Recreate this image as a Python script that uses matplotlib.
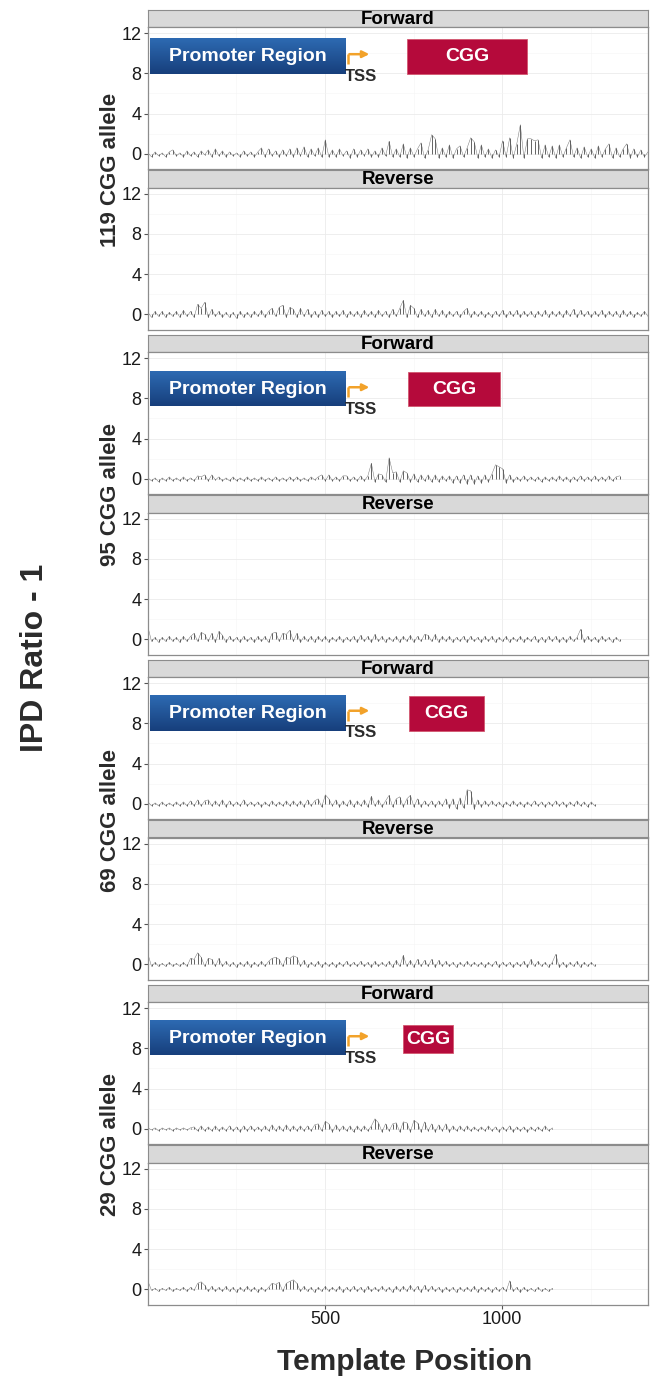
import numpy as np
import matplotlib
matplotlib.use('Agg')
import matplotlib.pyplot as plt
from matplotlib.colors import LinearSegmentedColormap

plt.rcParams['font.family'] = ['Liberation Sans', 'DejaVu Sans']

# --- data: IPD ratio - 1, read every 10 bp along the template ---
alleles = ['119', '95', '69', '29']
strands = ['Forward', 'Reverse']
step = 10

fwd_119 = [0.1, -0.3, 0.2, -0.2, 0.1, -0.3, 0.2, 0.4, -0.2, 0.1,
           -0.3, 0.3, -0.2, 0.2, -0.3, 0.3, -0.1, 0.4, -0.3, 0.5,
           -0.2, 0.3, -0.3, 0.2, -0.2, 0.1, -0.3, 0.3, -0.2, 0.2,
           -0.3, 0.2, 0.6, -0.3, 0.5, -0.2, 0.3, -0.3, 0.4, -0.2,
           0.5, -0.3, 0.6, -0.2, 0.7, -0.3, 0.5, -0.2, 0.6, -0.3,
           1.4, -0.3, 0.4, -0.3, 0.5, -0.2, 0.3, -0.4, 0.5, -0.3,
           0.4, -0.2, 0.5, -0.3, 0.3, -0.3, 0.6, -0.2, 1.25, -0.3,
           0.5, -0.3, 1.0, -0.4, 0.6, -0.3, 0.5, 1.1, -0.4, 0.4,
           1.9, 1.5, -0.4, 0.6, -0.3, 0.9, -0.4, 0.5, 0.8, -0.3,
           0.6, 1.6, 1.2, -0.4, 0.9, -0.3, 0.5, -0.4, 0.4, -0.3,
           1.3, -0.3, 1.6, -0.4, 1.0, 2.9, -0.4, 1.5, 1.5, 1.3,
           1.4, -0.4, 0.9, -0.3, 0.8, -0.4, 0.9, -0.3, 0.6, 1.4,
           -0.3, 0.6, -0.4, 0.7, -0.3, 0.5, -0.4, 0.8, -0.3, 0.5,
           1.0, -0.4, 0.6, -0.3, 0.5, 1.0, -0.4, 0.5, -0.3, 0.4,
           -0.3, 0.2]
rev_119 = [0.2, -0.3, 0.3, -0.2, 0.3, -0.3, 0.2, -0.2, 0.3, -0.3,
           0.4, -0.2, 0.3, -0.3, 1.0, 0.6, 1.2, -0.3, 0.5, -0.2,
           0.3, -0.3, 0.2, -0.3, 0.2, -0.4, 0.3, -0.3, 0.2, -0.3,
           0.3, -0.2, 0.4, -0.3, 0.3, 0.6, -0.2, 0.7, 0.9, -0.3,
           0.7, 0.5, -0.3, 0.6, -0.2, 0.5, -0.3, 0.3, -0.3, 0.4,
           -0.2, 0.3, -0.3, 0.3, -0.2, 0.4, -0.3, 0.3, -0.2, 0.3,
           -0.3, 0.4, -0.2, 0.3, -0.3, 0.4, -0.2, 0.3, -0.3, 0.5,
           -0.2, 0.6, 1.4, -0.3, 0.9, 0.6, -0.3, 0.5, -0.2, 0.4,
           -0.3, 0.5, -0.2, 0.4, -0.3, 0.3, -0.2, 0.3, -0.3, 0.3,
           0.6, -0.3, 0.3, -0.2, 0.3, -0.3, 0.2, -0.3, 0.3, -0.2,
           0.4, -0.3, 0.3, -0.2, 0.4, -0.3, 0.3, -0.2, 0.3, -0.3,
           0.3, -0.2, 0.4, -0.3, 0.3, -0.2, 0.3, -0.3, 0.4, -0.2,
           0.5, -0.3, 0.4, -0.2, 0.3, -0.3, 0.3, -0.2, 0.4, -0.3,
           0.3, -0.2, 0.3, -0.3, 0.4, -0.2, 0.3, -0.3, 0.2, -0.2,
           0.3, -0.2]
fwd_95 = [0.1, -0.2, 0.1, -0.3, 0.1, -0.2, 0.2, -0.2, 0.1, -0.2,
          0.2, -0.2, 0.1, -0.2, 0.3, 0.2, 0.4, -0.2, 0.4, -0.1,
          0.2, -0.2, 0.1, -0.2, 0.2, -0.2, 0.1, -0.2, 0.2, -0.2,
          0.1, -0.2, 0.2, -0.2, 0.1, -0.2, 0.2, -0.2, 0.1, -0.2,
          0.2, -0.2, 0.2, -0.2, 0.1, -0.2, 0.2, -0.1, 0.2, 0.4,
          -0.2, 0.4, -0.2, 0.2, -0.2, 0.3, 0.3, -0.2, 0.2, -0.2,
          0.3, -0.2, 0.3, 1.55, -0.3, 0.5, 0.4, -0.3, 2.1, 0.6,
          0.7, -0.3, 0.8, 0.6, -0.3, 0.5, -0.3, 0.4, -0.2, 0.4,
          -0.3, 0.4, -0.3, 0.3, -0.2, 0.3, -0.4, 0.3, -0.4, 0.4,
          -0.5, 0.4, -0.5, 0.3, -0.4, 0.4, -0.3, 0.5, 1.4, 1.2,
          1.0, -0.4, 0.4, -0.3, 0.2, -0.2, 0.3, -0.2, 0.2, -0.2,
          0.2, -0.3, 0.2, -0.2, 0.2, -0.2, 0.3, -0.2, 0.2, -0.3,
          0.2, -0.2, 0.3, -0.2, 0.2, -0.2, 0.3, -0.2, 0.2, -0.2,
          0.3, -0.2, 0.2, 0.3]
rev_95 = [1.2, -0.2, 0.2, -0.3, 0.2, -0.2, 0.3, -0.2, 0.2, -0.3,
          0.3, -0.2, 0.3, 0.6, -0.2, 0.7, 0.5, -0.2, 0.6, -0.3,
          0.8, 0.4, -0.3, 0.3, -0.2, 0.2, -0.3, 0.3, -0.2, 0.2,
          -0.3, 0.3, -0.2, 0.3, -0.3, 0.6, 0.7, -0.2, 0.6, 0.5,
          0.9, -0.2, 0.6, -0.3, 0.3, -0.2, 0.3, -0.3, 0.3, -0.2,
          0.3, -0.3, 0.2, -0.2, 0.3, -0.3, 0.2, -0.2, 0.3, -0.3,
          0.4, -0.2, 0.3, -0.3, 0.5, -0.2, 0.3, -0.3, 0.2, -0.2,
          0.3, -0.3, 0.3, -0.2, 0.4, -0.3, 0.3, -0.2, 0.5, 0.4,
          -0.2, 0.5, -0.3, 0.3, -0.2, 0.3, -0.3, 0.2, -0.2, 0.3,
          -0.3, 0.3, -0.2, 0.2, -0.3, 0.3, -0.2, 0.3, -0.3, 0.2,
          -0.2, 0.3, -0.3, 0.2, -0.2, 0.3, -0.3, 0.2, -0.2, 0.3,
          -0.3, 0.2, -0.3, 0.3, -0.2, 0.3, -0.3, 0.2, -0.3, 0.3,
          -0.2, 0.2, 1.0, -0.3, 0.3, -0.2, 0.2, -0.3, 0.3, -0.2,
          0.2, -0.3, 0.2, -0.2]
fwd_69 = [0.2, -0.2, 0.1, -0.2, 0.2, -0.2, 0.1, -0.2, 0.2, -0.2,
          0.2, -0.2, 0.3, -0.2, 0.4, -0.2, 0.3, 0.4, -0.2, 0.3,
          -0.2, 0.4, -0.3, 0.3, -0.2, 0.2, -0.2, 0.4, -0.2, 0.2,
          -0.2, 0.2, -0.3, 0.2, -0.2, 0.3, -0.2, 0.2, -0.2, 0.3,
          -0.2, 0.3, -0.2, 0.3, -0.3, 0.4, -0.2, 0.3, 0.5, -0.3,
          0.9, 0.5, -0.2, 0.4, -0.3, 0.3, -0.2, 0.4, -0.3, 0.3,
          -0.2, 0.4, -0.3, 0.75, -0.2, 0.4, -0.3, 0.3, 0.85, -0.3,
          0.5, 0.7, -0.3, 0.5, 0.85, -0.3, 0.5, -0.3, 0.3, -0.2,
          0.3, -0.3, 0.3, -0.2, 0.5, -0.4, 0.5, -0.5, 0.6, -0.4,
          1.4, 1.3, -0.5, 0.4, -0.3, 0.3, -0.2, 0.3, -0.2, 0.2,
          -0.3, 0.2, -0.2, 0.3, -0.2, 0.2, -0.3, 0.2, -0.2, 0.3,
          -0.2, 0.2, -0.3, 0.2, -0.2, 0.3, -0.2, 0.2, -0.3, 0.2,
          -0.2, 0.3, -0.2, 0.2, -0.3, 0.2, -0.2]
rev_69 = [1.0, -0.2, 0.2, -0.2, 0.1, -0.2, 0.2, -0.2, 0.1, -0.2,
          0.2, -0.2, 0.6, 0.5, 1.15, 0.7, -0.2, 0.6, 0.5, -0.2,
          0.6, -0.2, 0.3, -0.2, 0.2, -0.3, 0.2, -0.2, 0.3, -0.3,
          0.2, -0.2, 0.3, -0.2, 0.3, 0.6, 0.7, 0.5, -0.2, 0.7,
          0.6, 0.85, 0.7, -0.2, 0.4, -0.3, 0.2, -0.2, 0.3, -0.3,
          0.2, -0.2, 0.2, -0.3, 0.2, -0.2, 0.3, -0.2, 0.2, -0.2,
          0.3, -0.2, 0.2, -0.3, 0.3, -0.2, 0.2, -0.2, 0.3, -0.3,
          0.4, -0.2, 0.9, -0.2, 0.4, -0.3, 0.5, -0.2, 0.4, -0.2,
          0.5, -0.3, 0.4, -0.2, 0.3, -0.2, 0.2, -0.3, 0.2, -0.2,
          0.3, -0.2, 0.2, -0.2, 0.2, -0.3, 0.2, -0.2, 0.3, -0.3,
          0.2, -0.2, 0.2, -0.3, 0.2, -0.2, 0.3, -0.3, 0.5, -0.2,
          0.3, -0.2, 0.2, -0.3, 0.2, 1.0, -0.3, 0.2, -0.3, 0.2,
          -0.2, 0.3, -0.3, 0.2, -0.2, 0.2, -0.2]
fwd_29 = [0.1, -0.1, 0.1, -0.2, 0.1, -0.1, 0.1, -0.2, 0.1, -0.1,
          0.1, -0.1, 0.1, 0.2, -0.2, 0.3, -0.2, 0.2, -0.2, 0.3,
          -0.2, 0.2, -0.2, 0.3, -0.2, 0.2, -0.3, 0.3, -0.2, 0.3,
          -0.2, 0.2, -0.2, 0.3, -0.2, 0.4, -0.2, 0.3, -0.2, 0.4,
          -0.2, 0.3, -0.2, 0.3, -0.2, 0.3, -0.2, 0.4, 0.5, -0.2,
          0.75, 0.5, -0.3, 0.4, -0.2, 0.3, -0.2, 0.3, -0.3, 0.3,
          -0.2, 0.3, -0.2, 0.3, 1.0, 0.6, -0.3, 0.5, -0.2, 0.5,
          0.6, -0.3, 0.7, 0.6, -0.3, 0.85, 0.6, -0.3, 0.7, -0.2,
          0.5, -0.3, 0.4, -0.2, 0.5, -0.3, 0.3, -0.2, 0.3, -0.2,
          0.3, -0.2, 0.2, -0.2, 0.2, -0.2, 0.3, -0.2, 0.2, -0.3,
          0.2, -0.2, 0.3, -0.3, 0.2, -0.2, 0.2, -0.3, 0.2, -0.2,
          0.2, -0.2, 0.3, -0.2, 0.1]
rev_29 = [0.8, -0.1, 0.1, -0.2, 0.1, -0.1, 0.2, -0.2, 0.1, -0.1,
          0.2, -0.2, 0.2, -0.1, 0.6, 0.75, 0.4, -0.2, 0.3, -0.2,
          0.2, -0.2, 0.3, -0.2, 0.2, -0.3, 0.2, -0.2, 0.3, -0.2,
          0.2, -0.3, 0.2, -0.2, 0.2, 0.6, 0.5, 0.7, -0.2, 0.6,
          0.8, 0.95, 0.6, -0.2, 0.3, -0.2, 0.2, -0.3, 0.2, -0.2,
          0.3, -0.2, 0.2, -0.2, 0.3, -0.3, 0.2, -0.2, 0.3, -0.2,
          0.2, -0.3, 0.3, -0.2, 0.2, -0.2, 0.3, -0.2, 0.2, -0.3,
          0.3, -0.2, 0.3, -0.2, 0.4, -0.2, 0.3, -0.3, 0.4, -0.2,
          0.3, -0.2, 0.2, -0.3, 0.2, -0.2, 0.2, -0.3, 0.2, -0.2,
          0.2, -0.2, 0.3, -0.3, 0.2, -0.2, 0.2, -0.3, 0.2, -0.2,
          0.2, -0.2, 0.85, -0.2, 0.2, -0.3, 0.2, -0.2, 0.1, -0.2,
          0.2, -0.2, 0.1, -0.2, 0.1]

traces = {
    ('119', 'Forward'): fwd_119, ('119', 'Reverse'): rev_119,
    ('95', 'Forward'): fwd_95, ('95', 'Reverse'): rev_95,
    ('69', 'Forward'): fwd_69, ('69', 'Reverse'): rev_69,
    ('29', 'Forward'): fwd_29, ('29', 'Reverse'): rev_29,
}

# annotation boxes (template position / y units) on the Forward panels
promoter_x = (8, 559)
cgg_x = {'119': (731, 1070), '95': (734, 994), '69': (737, 948), '29': (720, 861)}
promoter_y = {'119': (7.9, 11.4), '95': (7.2, 10.6), '69': (7.25, 10.75), '29': (7.3, 10.7)}
cgg_y = {'119': (7.9, 11.4), '95': (7.2, 10.6), '69': (7.25, 10.75), '29': (7.5, 10.3)}
tss_x = (565, 633)

# --- layout in pixels ---
W, H = 655, 1388
left, width = 148, 500
strip_h, panel_h = 17.5, 142
group_gap = 325
fig = plt.figure(figsize=(W / 100, H / 100), dpi=100)


def fy(px):
    return 1 - px / H


blue_cmap = LinearSegmentedColormap.from_list('promo', ['#173f7c', '#2d6ab2'])
text_col = '#2b2b2b'

for g, allele in enumerate(alleles):
    off = g * group_gap
    for s, strand in enumerate(strands):
        top = 9.5 + off + s * 160.5
        sax = fig.add_axes([left / W, fy(top + strip_h), width / W, strip_h / H])
        sax.set_facecolor('#d9d9d9')
        sax.set_xticks([])
        sax.set_yticks([])
        for sp in sax.spines.values():
            sp.set_color('#8c8c8c')
            sp.set_linewidth(0.8)
        sax.text(0.5, 0.45, strand, ha='center', va='center', fontsize=13.5,
                 fontweight='bold', color='black', transform=sax.transAxes)

        ax = fig.add_axes([left / W, fy(top + strip_h + panel_h), width / W, panel_h / H])
        y = np.array(traces[(allele, strand)])
        x = 1 + step * np.arange(len(y))
        # spikes + thin connecting trace
        ax.vlines(x, 0, y, color='#4a4a4a', lw=0.6, zorder=2)
        ax.plot(x, y, color='#555555', lw=0.35, alpha=0.8, zorder=2)

        ax.set_xlim(1, 1411)
        ax.set_ylim(-1.5, 12.6)
        ax.set_yticks([0, 4, 8, 12])
        ax.set_yticks([2, 6, 10], minor=True)
        ax.set_xticks([500, 1000])
        ax.set_xticks([250, 750, 1250], minor=True)
        ax.grid(True, which='major', color='#ebebeb', lw=0.6)
        ax.grid(True, which='minor', color='#f5f5f5', lw=0.4)
        ax.set_axisbelow(True)
        ax.tick_params(axis='both', which='major', labelsize=13, length=3,
                       color='#555555', labelcolor='#1a1a1a', pad=1.5)
        ax.tick_params(axis='both', which='minor', length=0)
        if not (g == 3 and s == 1):
            ax.tick_params(axis='x', labelbottom=False, length=0)
        for sp in ax.spines.values():
            sp.set_color('#8c8c8c')
            sp.set_linewidth(0.9)

        if strand == 'Forward':
            # promoter box
            py0, py1 = promoter_y[allele]
            grad = np.linspace(0, 1, 50).reshape(-1, 1)
            ax.imshow(grad, extent=[promoter_x[0], promoter_x[1], py0, py1],
                      aspect='auto', cmap=blue_cmap, origin='lower', zorder=4)
            ax.text(sum(promoter_x) / 2, (py0 + py1) / 2, 'Promoter Region',
                    ha='center', va='center', color='white', fontsize=14,
                    fontweight='bold', zorder=5)
            # CGG repeat box
            cy0, cy1 = cgg_y[allele]
            cx0, cx1 = cgg_x[allele]
            ax.add_patch(plt.Rectangle((cx0, cy0), cx1 - cx0, cy1 - cy0,
                                       facecolor='#b50a3b', edgecolor='#d2576f',
                                       lw=0.6, zorder=4))
            ax.text((cx0 + cx1) / 2, (cy0 + cy1) / 2, 'CGG', ha='center',
                    va='center', color='white', fontsize=14, fontweight='bold',
                    zorder=5)
            # TSS arrow
            ay = py1 - 1.5
            ax.plot([tss_x[0], tss_x[0]], [ay - 1.0, ay], color='#f2a22a',
                    lw=1.8, solid_capstyle='butt', zorder=5)
            ax.annotate('', xy=(tss_x[1], ay), xytext=(tss_x[0] - 4, ay),
                        arrowprops=dict(arrowstyle='-|>', color='#f2a22a',
                                        lw=1.8, mutation_scale=10), zorder=5)
            ax.text(tss_x[0] - 10, py1 - 3.7, 'TSS', ha='left', va='center',
                    fontsize=12, fontweight='bold', color=text_col, zorder=5)

    # allele label for the group
    fig.text(110 / W, fy(170 + off), f'{allele} CGG allele', rotation=90,
             ha='center', va='center', fontsize=16, fontweight='bold', color=text_col)

fig.text(35 / W, fy(658), 'IPD Ratio - 1', rotation=90, ha='center', va='center',
         fontsize=23, fontweight='bold', color=text_col)
fig.text(405 / W, fy(1362), 'Template Position', ha='center', va='center',
         fontsize=21.5, fontweight='bold', color=text_col)

fig.savefig('out.png', dpi=100)
